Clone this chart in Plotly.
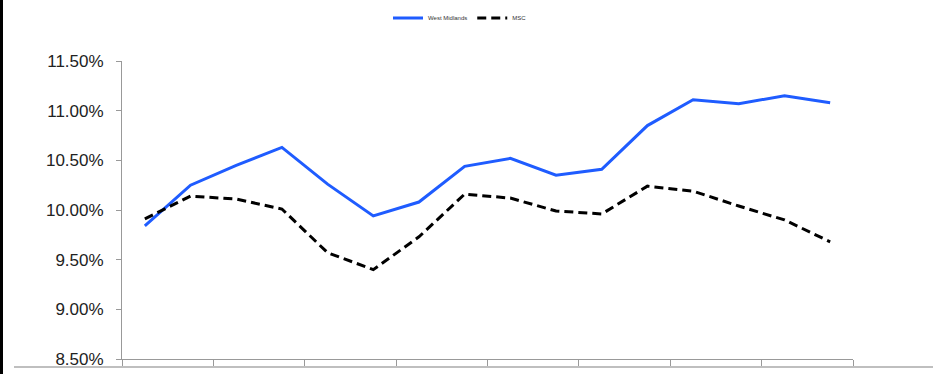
import plotly.graph_objects as go

periods = list(range(16))
west_midlands = [9.84, 10.25, 10.45, 10.63, 10.26, 9.94, 10.08, 10.44,
                 10.52, 10.35, 10.41, 10.85, 11.11, 11.07, 11.15, 11.08]
msc = [9.91, 10.14, 10.11, 10.01, 9.57, 9.40, 9.73, 10.16,
       10.12, 9.99, 9.96, 10.24, 10.19, 10.04, 9.90, 9.68]
y_ticks = [8.5, 9.0, 9.5, 10.0, 10.5, 11.0, 11.5]
y_labels = ["8.50%", "9.00%", "9.50%", "10.00%", "10.50%", "11.00%", "11.50%"]

xpos = [p + 0.5 for p in periods]

fig = go.Figure()
fig.add_trace(go.Scatter(x=xpos, y=west_midlands, mode="lines", name="West Midlands",
                         line=dict(color="#1f5cff", width=3)))
fig.add_trace(go.Scatter(x=xpos, y=msc, mode="lines", name="MSC",
                         line=dict(color="#000000", width=3, dash="9px,5px")))

W, H = 933, 374
L, R, T, B = 122, 80, 61, 15
pw = W - L - R
ph = H - T - B

def px_x(px):
    return (px - L) / pw

def px_y(py):
    return (H - B - py) / ph

fig.update_layout(
    width=W, height=H,
    margin=dict(l=L, r=R, t=T, b=B, autoexpand=False),
    paper_bgcolor="white", plot_bgcolor="white",
    font=dict(family="Liberation Sans, Arial, sans-serif", color="#222222"),
    showlegend=True,
    legend=dict(orientation="h", x=px_x(388), xanchor="left", y=px_y(18), yanchor="middle",
                font=dict(size=6, color="#333333"), bgcolor="rgba(0,0,0,0)",
                itemwidth=30, tracegroupgap=0),
    xaxis=dict(range=[0, 16], tickvals=list(range(0, 17, 2)), ticktext=[""] * 9,
               showgrid=False, zeroline=False, showline=True, linecolor="#999999",
               linewidth=1, ticks="outside", ticklen=6, tickcolor="#999999"),
    yaxis=dict(range=[8.5, 11.5], tickvals=y_ticks, ticktext=y_labels,
               showgrid=False, zeroline=False, showline=True, linecolor="#999999",
               linewidth=1, ticks="outside", ticklen=5, tickcolor="#999999",
               ticklabelstandoff=9,
               tickfont=dict(size=17, color="#222222")),
    shapes=[
        dict(type="line", xref="paper", yref="paper", x0=px_x(1.5), x1=px_x(1.5),
             y0=px_y(0), y1=px_y(374), line=dict(color="black", width=3)),
        dict(type="line", xref="paper", yref="paper", x0=px_x(14), x1=px_x(933),
             y0=px_y(367), y1=px_y(367), line=dict(color="#aaaaaa", width=1.5)),
    ],
)

fig.write_html("out.html")
